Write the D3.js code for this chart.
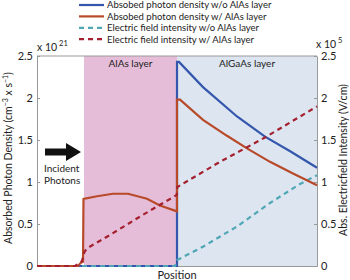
<!DOCTYPE html>
<html>
<head>
<meta charset="utf-8">
<script src="https://cdn.jsdelivr.net/npm/d3@7"></script>
<style>
  body { margin: 0; background: #fff; }
  text { font-family: Lato, "Open Sans", sans-serif; fill: #222; }
</style>
</head>
<body>
<script>
// position units along the device (no ticks on x)
const layerEdges = [0, 47, 140, 280]   // start, AlAs start, AlGaAs start, end
const layerNames = ["AlAs layer", "AlGaAs layer"]

// absorbed photon density (x 10^21)
const blueWo = [[0,0],[140,0],[140,2.43],[142,2.43],[166,2.13],[200,1.78],[228,1.54],[254,1.36],[280,1.17]]
const redW = [[0,0],[41,0],[44,0.04],[46,0.05],[46.5,0.8],[60,0.83],[76,0.86],[91,0.86],[110,0.8],[123,0.72],[140,0.65],[140,1.98],[143,1.98],[166,1.74],[190,1.55],[210,1.4],[233,1.24],[256,1.1],[280,0.96]]
// electric field intensity (x 10^5)
const cyanWo = [[0,0],[138,0],[140,0.07],[166,0.23],[200,0.47],[233,0.75],[262,0.97],[280,1.08]]
const redDashW = [[0,0],[38,0],[43,0.04],[45,0.06],[47.5,0.17],[50,0.21],[73,0.37],[106,0.61],[139.7,0.845],[140.3,0.94],[183,1.24],[228,1.53],[280,1.9]]

const leftTicks = [0, 0.5, 1, 1.5, 2, 2.5]
const rightTicks = [0, 0.5, 1, 1.5, 2, 2.5]

const legendItems = [
  {label: "Absobed photon density w/o AlAs layer", color: "#3457ad", dash: null},
  {label: "Absobed photon density w/ AlAs layer", color: "#b84a2a", dash: null},
  {label: "Electric field intensity w/o AlAs layer", color: "#4fa7b5", dash: "5,4"},
  {label: "Electric field intensity w/ AlAs layer", color: "#a5202e", dash: "5,4"}
]

const svg = d3.select("body").append("svg")
  .attr("width", 350)
  .attr("height", 280)

const x = d3.scaleLinear().domain([0, 280]).range([37, 317])
const y = d3.scaleLinear().domain([0, 2.5]).range([266, 56])
const yR = d3.scaleLinear().domain([0, 2.5]).range([266, 56])

// layer backgrounds
svg.append("rect")
  .attr("x", x(layerEdges[1])).attr("y", y(2.5))
  .attr("width", x(layerEdges[2]) - x(layerEdges[1]))
  .attr("height", y(0) - y(2.5))
  .style("fill", "#e6bdd9")
svg.append("rect")
  .attr("x", x(layerEdges[2])).attr("y", y(2.5))
  .attr("width", x(layerEdges[3]) - x(layerEdges[2]))
  .attr("height", y(0) - y(2.5))
  .style("fill", "#dce5f0")

svg.selectAll(".layer-name")
  .data(layerNames)
  .join("text")
  .attr("class", "layer-name")
  .attr("x", (d, i) => (x(layerEdges[i + 1]) + x(layerEdges[i + 2])) / 2)
  .attr("y", 67)
  .attr("text-anchor", "middle")
  .style("font-size", "10px")
  .text(d => d)

// axes
const axisL = svg.append("g")
  .attr("transform", "translate(37,0)")
  .call(d3.axisLeft(y).tickValues(leftTicks).tickSizeInner(-3).tickSizeOuter(0).tickPadding(4).tickFormat(d => d))
const axisR = svg.append("g")
  .attr("transform", "translate(317,0)")
  .call(d3.axisRight(yR).tickValues(rightTicks).tickSizeInner(-3).tickSizeOuter(0).tickPadding(4).tickFormat(d => d))
const axisB = svg.append("g")
  .attr("transform", "translate(0,266)")
  .call(d3.axisBottom(x).tickValues([]).tickSizeOuter(0))
svg.append("line")
  .attr("x1", 37).attr("x2", 317).attr("y1", 56).attr("y2", 56)
  .style("stroke", "#999").style("stroke-width", 1)

for (const a of [axisL, axisR, axisB]) {
  a.select(".domain").style("stroke", "#999")
  a.selectAll(".tick line").style("stroke", "#999")
  a.selectAll(".tick text").style("font-size", "11px").style("fill", "#222")
    .style("font-family", "Lato, sans-serif")
}

// series lines
const line = d3.line().x(d => x(d[0])).y(d => y(d[1]))
const series = [
  {data: blueWo, item: legendItems[0]},
  {data: cyanWo, item: legendItems[2]},
  {data: redW, item: legendItems[1]},
  {data: redDashW, item: legendItems[3]}
]
svg.selectAll(".series")
  .data(series)
  .join("path")
  .attr("class", "series")
  .attr("d", d => line(d.data))
  .style("fill", "none")
  .style("stroke", d => d.item.color)
  .style("stroke-width", 2.2)
  .style("stroke-dasharray", d => d.item.dash)

// multipliers
const mulL = svg.append("text").attr("x", 37).attr("y", 51).style("font-size", "10.5px")
mulL.append("tspan").text("x 10")
mulL.append("tspan").attr("dx", 2).attr("dy", -5).style("font-size", "7.5px").text("21")
const mulR = svg.append("text").attr("x", 316).attr("y", 47.5).style("font-size", "10.5px")
mulR.append("tspan").text("x 10")
mulR.append("tspan").attr("dx", 2).attr("dy", -5).style("font-size", "7.5px").text("5")

// axis titles
const titleL = svg.append("text")
  .attr("transform", "translate(12,158) rotate(-90)")
  .attr("text-anchor", "middle")
  .style("font-size", "10.5px")
titleL.append("tspan").text("Absorbed Photon Density (cm")
titleL.append("tspan").attr("dy", -4).style("font-size", "7px").text("−3")
titleL.append("tspan").attr("dy", 4).text(" x s")
titleL.append("tspan").attr("dy", -4).style("font-size", "7px").text("−1")
titleL.append("tspan").attr("dy", 4).text(")")

svg.append("text")
  .attr("transform", "translate(347,160) rotate(-90)")
  .attr("text-anchor", "middle")
  .style("font-size", "10.5px")
  .text("Abs. Electricfield Intensity (V/cm)")

svg.append("text")
  .attr("x", 177).attr("y", 279)
  .attr("text-anchor", "middle")
  .style("font-size", "11px")
  .text("Position")

// incident photons arrow
svg.append("path")
  .attr("d", "M45,148.5 L66,148.5 L66,143 L81,152 L66,161 L66,155.5 L45,155.5 Z")
  .style("fill", "#111")
svg.selectAll(".incident")
  .data(["Incident", "Photons"])
  .join("text")
  .attr("class", "incident")
  .attr("x", 44)
  .attr("y", (d, i) => 172 + i * 12)
  .style("font-size", "10px")
  .text(d => d)

// legend
const legend = svg.selectAll(".legend")
  .data(legendItems)
  .join("g")
  .attr("class", "legend")
  .attr("transform", (d, i) => `translate(79,${5 + i * 11.4})`)
legend.append("line")
  .attr("x1", 0).attr("x2", 25)
  .style("stroke", d => d.color)
  .style("stroke-width", 2.2)
  .style("stroke-dasharray", d => d.dash)
legend.append("text")
  .attr("x", 28).attr("y", 3.3)
  .style("font-size", "9.5px")
  .text(d => d.label)
</script>
</body>
</html>
